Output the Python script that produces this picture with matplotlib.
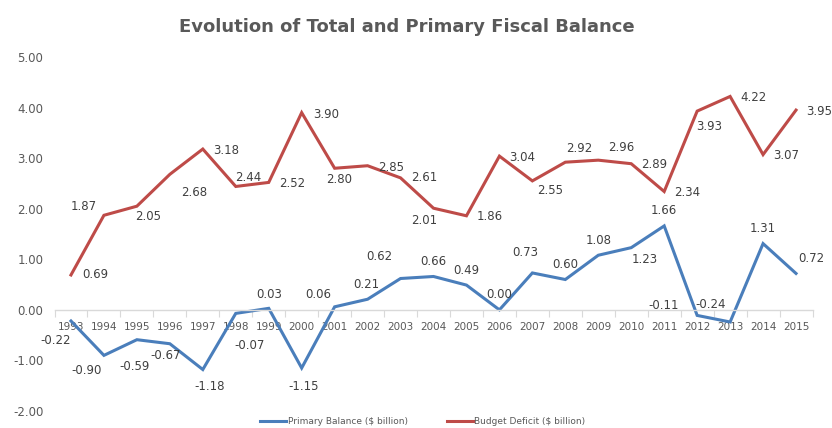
import matplotlib
matplotlib.use("Agg")
import matplotlib.pyplot as plt
import numpy as np

years = [str(y) for y in range(1993, 2016)]
primary_balance = [-0.22, -0.90, -0.59, -0.67, -1.18, -0.07, 0.03, -1.15, 0.06, 0.21,
                   0.62, 0.66, 0.49, 0.00, 0.73, 0.60, 1.08, 1.23, 1.66, -0.11,
                   -0.24, 1.31, 0.72]
budget_deficit = [0.69, 1.87, 2.05, 2.68, 3.18, 2.44, 2.52, 3.90, 2.80, 2.85,
                  2.61, 2.01, 1.86, 3.04, 2.55, 2.92, 2.96, 2.89, 2.34, 3.93,
                  4.22, 3.07, 3.95]
y_ticks = [-2.0, -1.0, 0.0, 1.0, 2.0, 3.0, 4.0, 5.0]

# label offsets (pixels) relative to each data point
pb_offsets = [(-15, -20), (-17, -15), (-2, -27), (-4, -12), (7, -17), (14, -32), (0, 14),
              (2, -18), (-16, 12), (-1, 15), (-21, 22), (0, 15), (0, 15), (0, 15),
              (-7, 20), (0, 15), (0, 15), (13, -12), (0, 15), (-34, 10), (-19, 17),
              (0, 15), (15, 15)]
bd_offsets = [(24, 0), (-20, 9), (11, -10), (24, -18), (23, -1), (12, 9), (23, -1),
              (24, -2), (4, -11), (24, -2), (24, 0), (-9, -12), (23, -1), (23, -1),
              (18, -10), (14, 14), (23, 13), (23, -1), (23, -1), (12, -15), (23, -1),
              (23, -1), (23, -1)]

BLUE = "#4A7EBB"
RED = "#BE4B48"
TEXT = "#404040"
AXIS_TEXT = "#595959"
GRID = "#D9D9D9"

fig = plt.figure(figsize=(8.32, 4.28), dpi=100)
ax = fig.add_axes([54.5 / 832, 17 / 428, 758 / 832, 354 / 428])

x = np.arange(len(years))
ax.plot(x, primary_balance, color=BLUE, lw=2.2, solid_joinstyle="miter",
        label="Primary Balance ($ billion)")
ax.plot(x, budget_deficit, color=RED, lw=2.2, solid_joinstyle="miter",
        label="Budget Deficit ($ billion)")

for xi, v, off in zip(x, primary_balance, pb_offsets):
    ax.annotate(f"{v:.2f}", (xi, v), xytext=off, textcoords="offset pixels",
                ha="center", va="center", fontsize=8.5, color=TEXT,
                annotation_clip=False)
for xi, v, off in zip(x, budget_deficit, bd_offsets):
    ax.annotate(f"{v:.2f}", (xi, v), xytext=off, textcoords="offset pixels",
                ha="center", va="center", fontsize=8.5, color=TEXT,
                annotation_clip=False)

ax.set_xlim(-0.5, len(years) - 0.5)
ax.set_ylim(-2, 5)
ax.set_yticks(y_ticks)
ax.set_yticklabels([f"{t:.2f}" for t in y_ticks])
ax.tick_params(axis="y", length=0, pad=8, labelsize=8.5, labelcolor=AXIS_TEXT)

ax.set_xticks(x)
ax.set_xticklabels(years)
ax.set_xticks(np.arange(-0.5, len(years)), minor=True)
ax.tick_params(axis="x", which="major", length=0, pad=9, labelsize=7.5,
               labelcolor=AXIS_TEXT)
ax.tick_params(axis="x", which="minor", length=5, width=0.8, color=GRID)

for side in ("left", "right", "top"):
    ax.spines[side].set_visible(False)
ax.spines["bottom"].set_position(("data", 0))
ax.spines["bottom"].set_color(GRID)
ax.spines["bottom"].set_linewidth(1.0)

fig.text(0.489, 1 - 27 / 428, "Evolution of Total and Primary Fiscal Balance",
         ha="center", va="center", fontsize=13, fontweight="bold", color=AXIS_TEXT)

leg = fig.legend(loc="center", bbox_to_anchor=(0.508, 1 - 422 / 428), ncol=2,
                 frameon=False, fontsize=6.5, handlelength=2.9, handletextpad=0.15,
                 columnspacing=4.3)
for t in leg.get_texts():
    t.set_color(AXIS_TEXT)

fig.savefig("out.png", dpi=100)
